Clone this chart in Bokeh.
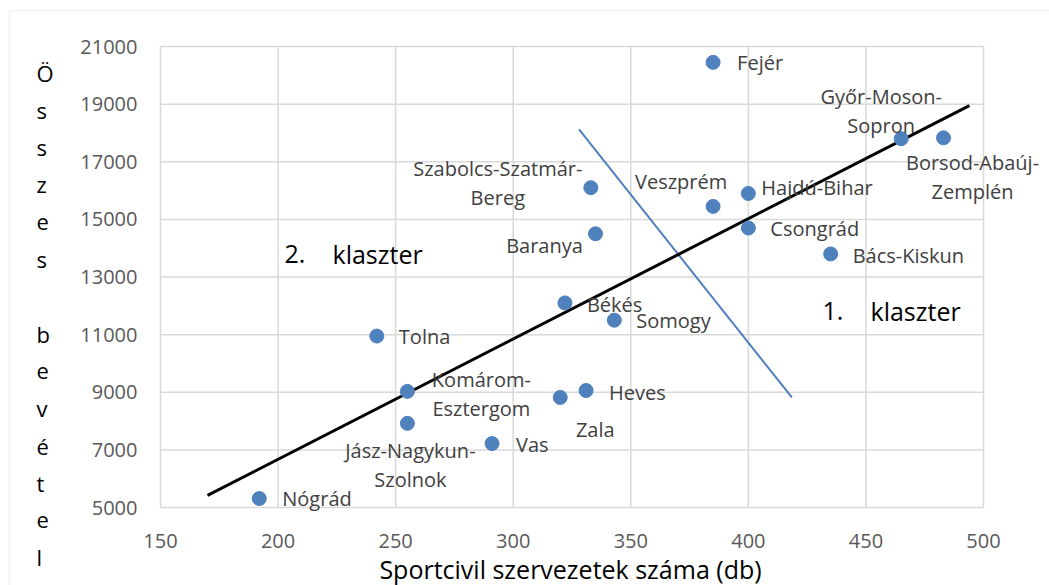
from bokeh.plotting import figure
from bokeh.models import Label, FixedTicker, Range1d, BoxAnnotation
from bokeh.embed import file_html
from bokeh.resources import INLINE

# ---------------- data ----------------
counties = ["Fejér", "Győr-Moson-Sopron", "Borsod-Abaúj-Zemplén", "Szabolcs-Szatmár-Bereg",
            "Veszprém", "Hajdú-Bihar", "Csongrád", "Bács-Kiskun", "Baranya", "Békés",
            "Somogy", "Tolna", "Komárom-Esztergom", "Heves", "Zala",
            "Jász-Nagykun-Szolnok", "Vas", "Nógrád"]
sport_orgs = [385, 465, 483, 333, 385, 400, 400, 435, 335, 322,
              343, 242, 255, 331, 320, 255, 291, 192]
revenue = [20450, 17800, 17830, 16100, 15450, 15900, 14700, 13800, 14500, 12100,
           11500, 10950, 9030, 9060, 8820, 7920, 7220, 5310]
label_lines = [["Fejér"], ["Győr-Moson-", "Sopron"], ["Borsod-Abaúj-", "Zemplén"],
               ["Szabolcs-Szatmár-", "Bereg"], ["Veszprém"], ["Hajdú-Bihar"], ["Csongrád"],
               ["Bács-Kiskun"], ["Baranya"], ["Békés"], ["Somogy"], ["Tolna"],
               ["Komárom-", "Esztergom"], ["Heves"], ["Zala"], ["Jász-Nagykun-", "Szolnok"],
               ["Vas"], ["Nógrád"]]

trend_x = [170, 494]
trend_y = [5420, 18950]
divider_x = [328, 418.5]
divider_y = [18120, 8820]

x_ticks = [150, 200, 250, 300, 350, 400, 450, 500]
y_ticks = [5000, 7000, 9000, 11000, 13000, 15000, 17000, 19000, 21000]

x_title = "Sportcivil szervezetek száma (db)"
y_title = "Összes bevétel"
cluster_texts = [("1.", "klaszter"), ("2.", "klaszter")]

# ---------------- layout / style ----------------
W, H = 1049, 585
L, R, T, B = 160, 983, 46, 507          # plot-area edges in pixels
FONT = "Open Sans"
BLUE = "#4F81BD"
GRID = "#d9d9d9"
LABEL_C = "#404040"
TICK_C = "#595959"

xpp = (x_ticks[-1] - x_ticks[0]) / (R - L)
ypp = (y_ticks[-1] - y_ticks[0]) / (B - T)
x_range = Range1d(x_ticks[0] - L * xpp, x_ticks[-1] + (W - R) * xpp)
y_range = Range1d(y_ticks[0] - (H - B) * ypp, y_ticks[-1] + T * ypp)

p = figure(width=W, height=H, output_backend="svg", toolbar_location=None,
           x_range=x_range, y_range=y_range, min_border=0)
p.background_fill_color = "white"
p.border_fill_color = "white"
p.outline_line_color = None
p.grid.visible = False

for ax in (p.xaxis, p.yaxis):
    ax.axis_line_color = None
    ax.major_tick_line_color = None
    ax.minor_tick_line_color = None
    ax.major_label_text_font = FONT
    ax.major_label_text_font_size = "20px"
    ax.major_label_text_color = TICK_C
p.xaxis.ticker = FixedTicker(ticks=x_ticks)
p.yaxis.ticker = FixedTicker(ticks=y_ticks)
p.xaxis.fixed_location = y_ticks[0]
p.yaxis.fixed_location = x_ticks[0]
p.xaxis.major_label_standoff = 20
p.yaxis.major_label_standoff = 17

# grid lines limited to the plot area
n_x, n_y = len(x_ticks), len(y_ticks)
p.segment(x0=x_ticks, y0=[y_ticks[0]] * n_x, x1=x_ticks, y1=[y_ticks[-1]] * n_x,
          line_color=GRID, line_width=1.5)
p.segment(x0=[x_ticks[0]] * n_y, y0=y_ticks, x1=[x_ticks[-1]] * n_y, y1=y_ticks,
          line_color=GRID, line_width=1.5)

# outer chart border (top and left visible)
p.add_layout(BoxAnnotation(left=9, right=W + 50, top=H - 10, bottom=-50,
                           left_units="screen", right_units="screen",
                           top_units="screen", bottom_units="screen",
                           fill_color=None, line_color=GRID, line_width=2))

# lines
p.line(divider_x, divider_y, line_color=BLUE, line_width=2)
p.line(trend_x, trend_y, line_color="black", line_width=3)

# points
p.scatter(sport_orgs, revenue, size=14, fill_color=BLUE, line_color=BLUE)

# data labels: (dx, dy [down +], align) pixel offsets relative to each point
label_place = {
    "Fejér": (24, 0, "left"),
    "Győr-Moson-Sopron": (-20, -42, "center"),
    "Borsod-Abaúj-Zemplén": (29, 25, "center"),
    "Szabolcs-Szatmár-Bereg": (-93, -19, "center"),
    "Veszprém": (-32, -25, "center"),
    "Hajdú-Bihar": (13, -6, "left"),
    "Csongrád": (22, 0, "left"),
    "Bács-Kiskun": (22, 2, "left"),
    "Baranya": (-51, 12, "center"),
    "Békés": (22, 2, "left"),
    "Somogy": (22, 0, "left"),
    "Tolna": (22, 0, "left"),
    "Komárom-Esztergom": (74, -12, "center"),
    "Heves": (23, 2, "left"),
    "Zala": (35, 32, "center"),
    "Jász-Nagykun-Szolnok": (3, 27, "center"),
    "Vas": (24, 1, "left"),
    "Nógrád": (23, 0, "left"),
}
LINE_H = 29
for name, xv, yv, lines in zip(counties, sport_orgs, revenue, label_lines):
    dx, dy, align = label_place[name]
    for i, line in enumerate(lines):
        p.add_layout(Label(x=xv, y=yv, x_offset=dx, y_offset=-(dy + i * LINE_H),
                           text=line, text_font=FONT, text_font_size="20px",
                           text_color=LABEL_C, text_align=align, text_baseline="middle"))

# cluster annotations (pixel positions from top-left)
cluster_pos = [((822, 310), (870, 310)), ((284, 253), (332, 253))]
for (num, word), ((x1, y1), (x2, y2)) in zip(cluster_texts, cluster_pos):
    for t, xx, yy in ((num, x1, y1), (word, x2, y2)):
        p.add_layout(Label(x=xx, y=H - yy, x_units="screen", y_units="screen", text=t,
                           text_font=FONT, text_font_size="25px", text_color="black",
                           text_align="left", text_baseline="middle"))

# x axis title
p.add_layout(Label(x=570, y=H - 568, x_units="screen", y_units="screen", text=x_title,
                   text_font=FONT, text_font_size="25px", text_color="black",
                   text_align="center", text_baseline="middle"))

# y axis title, stacked letters
for i, ch in enumerate(y_title):
    if ch == " ":
        continue
    p.add_layout(Label(x=36, y=H - (72 + 37.3 * i), x_units="screen", y_units="screen",
                       text=ch, text_font=FONT, text_font_size="22px", text_color="black",
                       text_align="left", text_baseline="middle"))

open("out.html", "w").write(file_html(p, INLINE))
